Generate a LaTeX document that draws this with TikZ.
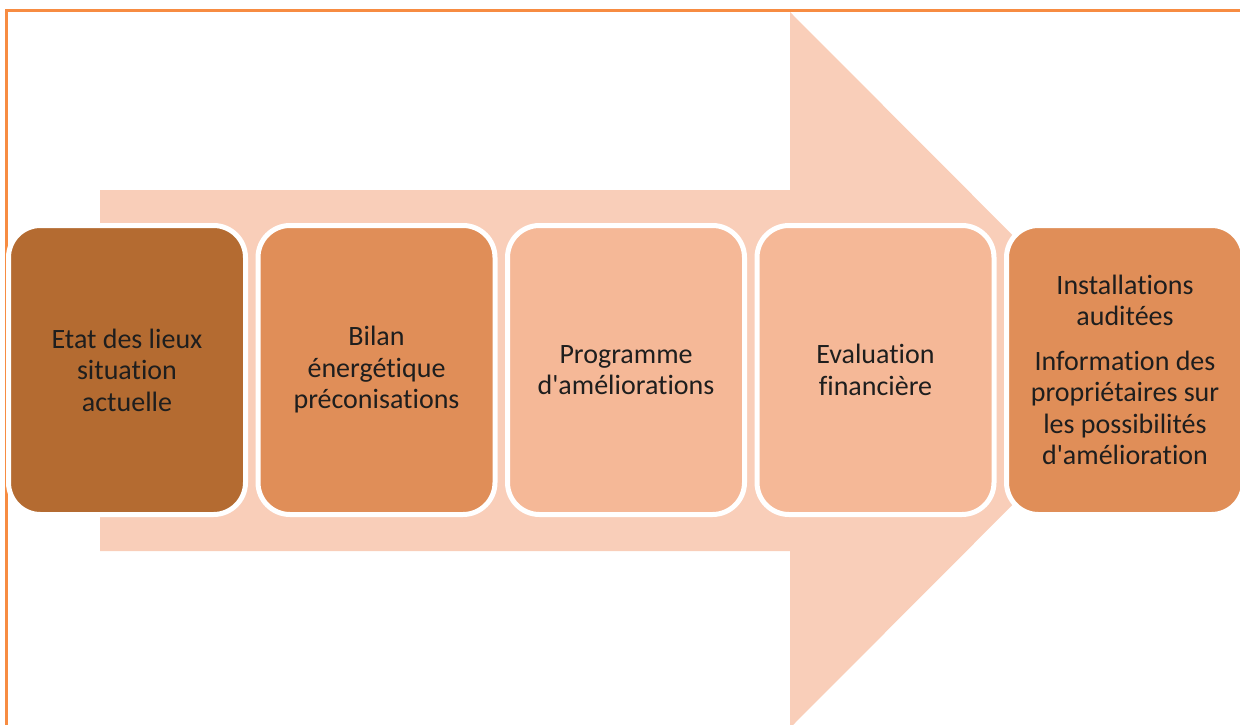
\documentclass[tikz,border=0pt]{standalone}
\usepackage{fontspec}
\setmainfont{Carlito}[Ligatures=NoCommon]
\usetikzlibrary{positioning}

\begin{document}
\begin{tikzpicture}[x=1pt,y=-1pt,node distance=249.5pt,
	step node/.style={rectangle,rounded corners=32pt,draw=white,line width=5pt,
		minimum width=237pt,minimum height=289pt,inner sep=0pt,align=center,
		text=textdark,font=\fontsize{28}{31.5}\selectfont}]
	
	\definecolor{frameorange}{RGB}{247,140,66}
	\definecolor{arrowpeach}{RGB}{249,206,185}
	\definecolor{darkbrown}{RGB}{180,107,49}
	\definecolor{midorange}{RGB}{224,142,88}
	\definecolor{lightsalmon}{RGB}{245,184,151}
	\definecolor{textdark}{RGB}{30,30,30}
	
	\useasboundingbox (0,0) rectangle (1240,725);
	
	% frame
	\draw[frameorange,line width=3pt] (6,740) -- (6,11) -- (1250,11);
	
	% big arrow
	\fill[arrowpeach] (100,190) -- (790,190) -- (790,12) -- (1147,370)
	-- (790,728) -- (790,551) -- (100,551) -- cycle;
	
	\node[step node,fill=darkbrown] (etat) at (127,370) {Etat des lieux\\situation\\actuelle};
	\node[step node,fill=midorange] (bilan) [right of=etat] {Bilan\\énergétique\\préconisations};
	\node[step node,fill=lightsalmon] (programme) [right of=bilan] {Programme\\d\textquotesingle améliorations};
	\node[step node,fill=lightsalmon] (evaluation) [right of=programme] {Evaluation\\financière};
	\node[step node,fill=midorange] (installations) [right of=evaluation]
	{Installations\\auditées\\[13pt]Information des\\propriétaires sur\\les possibilités\\d\textquotesingle amélioration};
\end{tikzpicture}
\end{document}
